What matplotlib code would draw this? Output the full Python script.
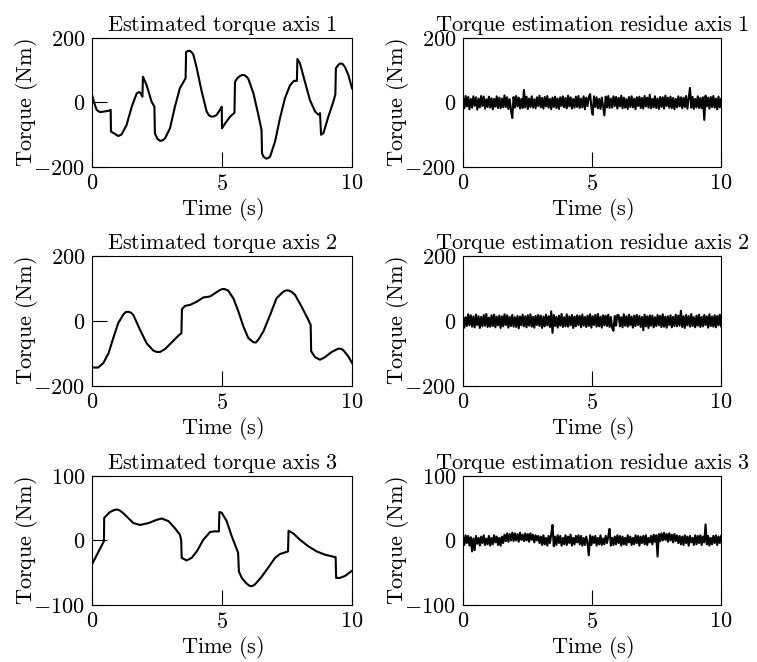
import numpy as np
import matplotlib
matplotlib.use("Agg")
import matplotlib.pyplot as plt

plt.rcParams['font.family'] = 'serif'
plt.rcParams['font.serif'] = ['cmr10']
plt.rcParams['mathtext.fontset'] = 'cm'
plt.rcParams['axes.formatter.use_mathtext'] = True
plt.rcParams['font.size'] = 16

# Estimated torque, axis 1 (time s, torque Nm)
t_est1 = [0, 0.08, 0.18, 0.31, 0.63, 0.72, 0.73, 0.90, 1.01, 1.14, 1.33, 1.53,
          1.72, 1.80, 1.85, 1.94, 1.96, 2.10, 2.29, 2.40, 2.42, 2.52, 2.62, 2.72,
          2.81, 3.0, 3.19, 3.38, 3.60, 3.62, 3.70, 3.77, 3.84, 3.90, 4.03, 4.22,
          4.41, 4.50, 4.60, 4.70, 4.79, 4.92, 4.99, 5.0, 5.12, 5.31, 5.48, 5.50,
          5.60, 5.69, 5.77, 5.85, 5.93, 6.01, 6.21, 6.40, 6.52, 6.54, 6.60, 6.70,
          6.78, 6.85, 7.04, 7.23, 7.42, 7.62, 7.77, 7.88, 7.90, 8.0, 8.19, 8.38,
          8.58, 8.71, 8.77, 8.81, 8.90, 9.09, 9.28, 9.36, 9.38, 9.47, 9.55, 9.63,
          9.73, 9.86, 10.0]
est1 = [25, 0, -23, -30, -26, -23, -90, -98, -104, -99, -70, -13,
        28, 32, 31, 18, 80, 54, 3, -13, -96, -113, -119, -117,
        -111, -80, -13, 44, 75, 156, 160, 160, 155, 148, 106, 34,
        -28, -40, -44, -43, -39, -23, -13, -80, -65, -44, -32, 64,
        76, 82, 85, 85, 81, 74, 28, -39, -85, -158, -168, -174,
        -172, -168, -121, -49, 13, 54, 67, 67, 135, 121, 64, 8,
        -28, -38, -33, -100, -95, -44, 2, 25, 106, 116, 121, 120,
        110, 85, 44]

# Estimated torque, axis 2
t_est2 = [0, 0.24, 0.44, 0.64, 0.82, 1.01, 1.21, 1.30, 1.40, 1.50, 1.59, 1.85,
          2.10, 2.36, 2.50, 2.62, 2.81, 3.06, 3.32, 3.44, 3.46, 3.58, 3.77, 4.03,
          4.28, 4.54, 4.73, 4.92, 5.02, 5.09, 5.16, 5.24, 5.44, 5.63, 5.82, 6.01,
          6.21, 6.30, 6.40, 6.59, 6.85, 7.10, 7.36, 7.48, 7.58, 7.68, 7.81, 8.06,
          8.32, 8.41, 8.43, 8.58, 8.77, 8.96, 9.22, 9.47, 9.57, 9.67, 9.86, 10.0]
est2 = [-143, -143, -129, -98, -52, -6, 21, 28, 29, 26, 19, -27,
        -68, -91, -95, -95, -86, -66, -45, -37, 37, 47, 50, 60,
        73, 76, 86, 96, 99, 99, 97, 94, 70, 30, -16, -52,
        -65, -66, -57, -32, 19, 71, 91, 95, 94, 90, 81, 45,
        4, -12, -93, -111, -119, -111, -95, -85, -85, -90, -109, -129]

# Estimated torque, axis 3
t_est3 = [0, 0.46, 0.47, 0.69, 0.85, 0.95, 1.05, 1.21, 1.59, 1.85, 2.18, 2.49,
          2.68, 2.94, 3.19, 3.38, 3.43, 3.45, 3.64, 3.83, 4.03, 4.28, 4.54, 4.69,
          4.88, 4.90, 4.99, 5.18, 5.37, 5.62, 5.65, 5.76, 5.95, 6.05, 6.12, 6.20,
          6.27, 6.53, 6.78, 7.04, 7.23, 7.54, 7.56, 7.74, 8.0, 8.32, 8.64, 8.96,
          9.37, 9.39, 9.54, 9.73, 10.0]
est3 = [-37, -1, 35, 44, 47, 48, 47, 42, 27, 24, 27, 32,
        34, 30, 19, 9, 1, -27, -31, -27, -17, 1, 13, 14,
        14, 44, 43, 30, 7, -19, -48, -58, -67, -70, -71, -70,
        -68, -56, -42, -27, -21, -17, 15, 11, 1, -9, -17, -22,
        -26, -58, -58, -55, -47]

# Residues (evenly sampled over 0-10 s)
res1 = [15, -18, 20, -12, 17, -21, 11, -16, 19, -10,
        16, -22, 12, -15, 20, -11, 18, -19, 10, -14,
        18, -16, 13, -21, 11, -13, 19, -17, 15, -18,
        12, -15, 22, -14, 16, -20, 10, -24, -48, 17,
        -16, 20, -12, 15, -19, 11, -17, 39, -15, 18,
        -20, 12, -14, 19, -16, 10, -18, 16, -11, 21,
        -15, 14, -19, 17, -12, 20, -16, 11, -21, 15,
        -14, 18, -17, 12, -20, 16, -11, 19, -15, 14,
        -18, 21, -12, 16, -19, 11, -16, 18, -14, 20,
        -17, 12, -15, 19, -21, 15, -11, 17, 26, -16,
        -38, 19, -14, 16, -18, 11, -20, 15, -12, -40,
        18, -15, 20, -17, 12, -16, 19, -11, 17, -19,
        14, -12, 21, -18, 15, -16, 11, -20, 17, -14,
        19, -15, 12, -21, 16, -11, 18, -17, 14, -19,
        20, -12, 15, -16, 24, -18, 11, -15, 19, -17,
        12, -20, 17, -14, 16, -19, 21, -11, 15, -16,
        18, -17, 14, -21, 11, -15, 19, -12, 16, -18,
        15, -14, 20, -19, 12, 45, -16, 17, -20, 11,
        -15, 19, -17, 14, -18, 16, -54, 21, -12, 15,
        -19, 17, -14, 20, -16, 12, -21, 18, -15, 11]

res2 = [16, -20, 12, -15, 21, -13, 18, -17, 14, -19,
        20, -12, 15, -21, 13, -16, 19, -14, 22, -18,
        11, -17, 18, -15, 20, -19, 14, -13, 17, -21,
        15, -16, 21, -12, 18, -20, 13, -15, 19, -17,
        12, -18, 16, -22, 14, -13, 20, -16, 15, -19,
        18, -14, 21, -17, 13, -20, 16, -12, 19, -15,
        17, -21, 14, -16, 20, -13, 15, -18, 30, -36,
        19, -15, 13, -20, 17, -14, 22, -18, 12, -16,
        21, -17, 15, -13, 19, -21, 14, -16, 18, -12,
        16, -19, 20, -14, 13, -18, 17, -15, 21, -20,
        15, -12, 19, -17, 22, -16, 14, -20, 18, -13,
        17, -15, 20, -18, 13, -21, -30, 16, -14, 19,
        18, -16, 12, -19, 21, -14, 15, -17, 20, -13,
        14, -20, 17, -15, 19, -12, 16, -18, 13, -28,
        20, -16, 15, -21, 18, -14, 17, -19, 12, -15,
        19, -13, 16, -18, 21, -17, 14, -20, 15, -12,
        18, -19, 13, -15, 20, -16, 17, -14, 32, -18,
        15, -21, 19, -13, 16, -17, 22, -15, 12, -19,
        17, -14, 20, -18, 13, -16, 19, -12, 15, -20,
        21, -15, 14, -17, 18, -19, 16, -13, 20, -16]

res3 = [6, -7, 8, -4, 7, -8, 5, -17, 3, -15,
        7, -5, 4, -8, 6, -4, 8, -7, 3, -6,
        7, -8, 4, -6, 8, -3, 6, -7, 4, -8,
        6, -4, 9, -1, 11, -2, 10, 0, 12, -1,
        11, 0, 10, -2, 12, 1, 9, -1, 11, 0,
        10, -2, 11, 1, 9, -3, 8, 0, 7, -4,
        6, -7, 8, -6, 4, -8, 7, -4, 9, 24,
        -9, 6, -7, 8, -4, 7, -8, 4, -6, 8,
        -7, 6, -4, 9, -8, 4, -6, 7, -3, 8,
        -6, 7, -8, 4, -7, 6, -4, -23, 8, -7,
        6, -4, 7, -8, 4, -6, 8, -7, 3, -6,
        7, -4, 6, 18, -8, 4, -7, 6, -6, 8,
        -4, 7, -8, 6, -6, 4, -7, 8, -3, 6,
        -7, 4, -6, 8, -4, 7, -8, 6, -4, 7,
        -6, 8, -7, 4, -3, 7, -6, 9, -2, 8,
        -25, 10, -1, 11, 0, 12, 1, 10, -2, 11,
        0, 9, -3, 10, -1, 8, -4, 7, -6, 6,
        -7, 8, -4, 6, -8, 7, -3, 4, -7, 8,
        -6, 7, -4, 8, -7, 6, -3, 25, -6, 7,
        -8, 4, -6, 7, -4, 8, -7, 6, -4, 7]

t_res = np.linspace(0, 10, len(res1))


def tex(s):
    # upright Computer Modern text with normal word spacing
    return r"$\mathrm{" + s.replace(" ", r"\ ") + "}$"


fig = plt.figure(figsize=(7.57, 6.62), dpi=100)

panels = [
    ([0.1215, 0.7477, 0.3435, 0.195], t_est1, est1, "Estimated torque axis 1", 200),
    ([0.6116, 0.7477, 0.341, 0.195], t_res, res1, "Torque estimation residue axis 1", 200),
    ([0.1215, 0.4169, 0.3435, 0.196], t_est2, est2, "Estimated torque axis 2", 200),
    ([0.6116, 0.4169, 0.341, 0.196], t_res, res2, "Torque estimation residue axis 2", 200),
    ([0.1215, 0.0861, 0.3435, 0.195], t_est3, est3, "Estimated torque axis 3", 100),
    ([0.6116, 0.0861, 0.341, 0.195], t_res, res3, "Torque estimation residue axis 3", 100),
]

for rect, x, y, title, lim in panels:
    ax = fig.add_axes(rect)
    ax.plot(x, y, color='black', linewidth=1.5)
    ax.set_xlim(0, 10)
    ax.set_ylim(-lim, lim)
    ax.set_xticks([0, 5, 10])
    ax.set_yticks([-lim, 0, lim])
    ax.tick_params(direction='in', length=11, width=0.8, pad=5)
    for s in ax.spines.values():
        s.set_linewidth(0.8)
    ax.set_title(tex(title), fontsize=16, pad=5)
    ax.set_xlabel(tex("Time (s)"), fontsize=16, labelpad=1.5)
    ax.set_ylabel(tex("Torque (Nm)"), fontsize=16, labelpad=-4.5)

fig.savefig("out.png", dpi=100)
